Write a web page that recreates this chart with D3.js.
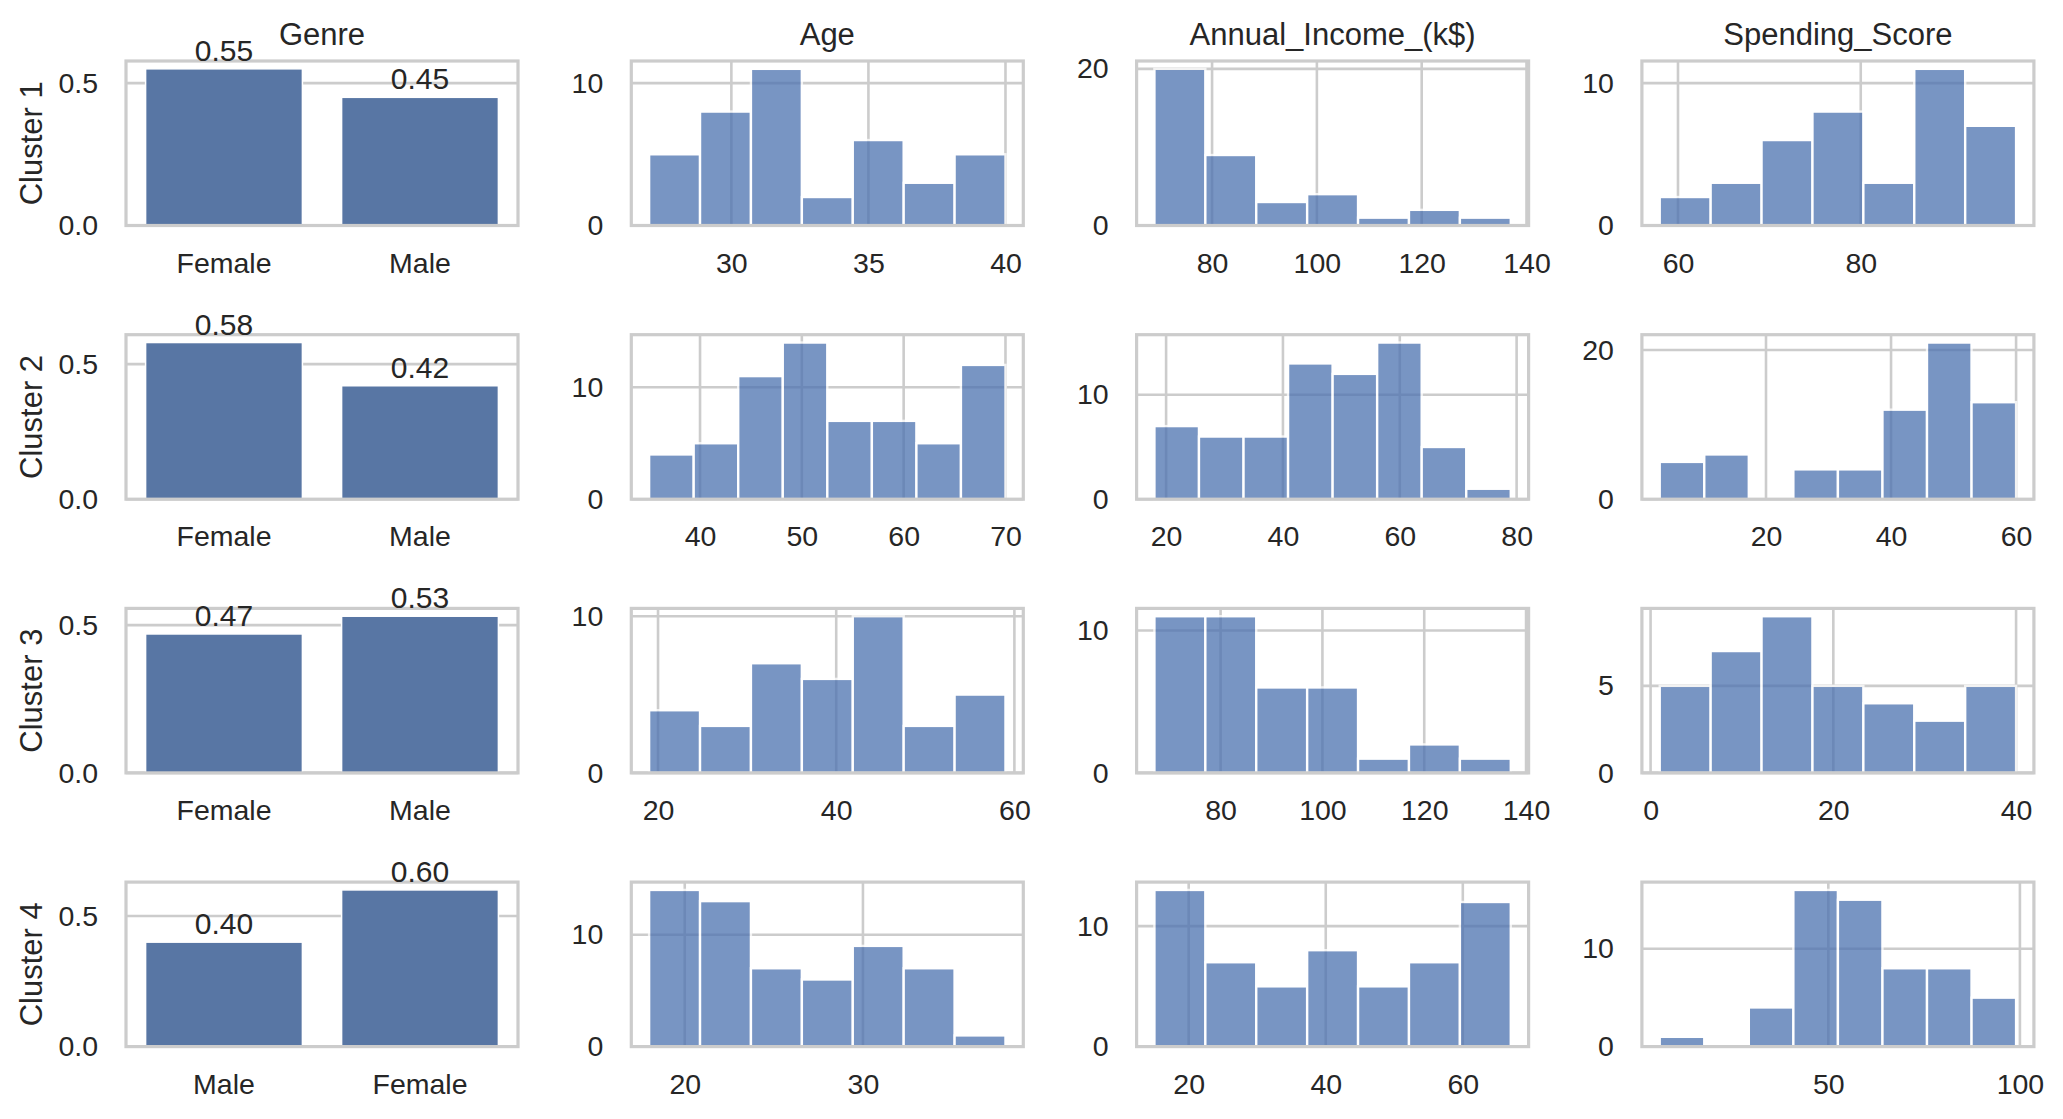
<!DOCTYPE html>
<html>
<head>
<meta charset="utf-8">
<script src="https://cdn.jsdelivr.net/npm/d3@7"></script>
<style>
  body { margin: 0; background: #fff; }
  text { font-family: "Liberation Sans", Arial, sans-serif; fill: #262626; }
</style>
</head>
<body>
<div id="chart"></div>
<script>
// ---- data ----
const clusters = ["Cluster 1", "Cluster 2", "Cluster 3", "Cluster 4"];
const columns = ["Genre", "Age", "Annual_Income_(k$)", "Spending_Score"];

const genreCats = [["Female", "Male"], ["Female", "Male"], ["Female", "Male"], ["Male", "Female"]];
const genreShares = [[0.55, 0.45], [0.58, 0.42], [0.47, 0.53], [0.40, 0.60]];
const genreYTicks = [0, 0.5];

// histogram ranges (first and last bin edge) and counts per bin
const ageRange = [[27, 40], [35, 70], [19, 59], [18, 38]];
const ageCounts = [
  [5, 8, 11, 2, 6, 3, 5],
  [4, 5, 11, 14, 7, 7, 5, 12],
  [4, 3, 7, 6, 10, 3, 5],
  [14, 13, 7, 6, 9, 7, 1]
];
const ageXTicks = [[30, 35, 40], [40, 50, 60, 70], [20, 40, 60], [20, 30]];
const ageYTicks = [[0, 10], [0, 10], [0, 10], [0, 10]];

const incomeRange = [[69, 137], [18, 79], [67, 137], [15, 67]];
const incomeCounts = [
  [20, 9, 3, 4, 1, 2, 1],
  [7, 6, 6, 13, 12, 15, 5, 1],
  [11, 11, 6, 6, 1, 2, 1],
  [13, 7, 5, 8, 5, 7, 12]
];
const incomeXTicks = [[80, 100, 120, 140], [20, 40, 60, 80], [80, 100, 120, 140], [20, 40, 60]];
const incomeYTicks = [[0, 20], [0, 10], [0, 10], [0, 10]];

const spendRange = [[58, 97], [3, 60], [1, 40], [6, 99]];
const spendCounts = [
  [2, 3, 6, 8, 3, 11, 7],
  [5, 6, 0, 4, 4, 12, 21, 13],
  [5, 7, 9, 5, 4, 3, 5],
  [1, 0, 4, 16, 15, 8, 8, 5]
];
const spendXTicks = [[60, 80], [20, 40, 60], [0, 20, 40], [50, 100]];
const spendYTicks = [[0, 10], [0, 20], [0, 5], [0, 10]];

// ---- layout ----
const width = 2063, height = 1119;
const axW = 392, axH = 164.5;
const colLeft = (c) => 126 + c * 505.3;
const rowTop = (r) => 61 + r * 273.7;

const gridColor = "#cccccc";
const barColor = "#5876a4";
const histColor = "#4c72b0";
const tickSize = 28.5, labelSize = 31;

const svg = d3.select("#chart")
  .append("svg")
  .attr("width", width)
  .attr("height", height)
  .style("background", "#fff");

const styleAxis = (g) => {
  g.select(".domain").remove();
  g.selectAll("text")
    .style("font-size", tickSize + "px")
    .style("font-family", '"Liberation Sans", Arial, sans-serif')
    .attr("fill", "#262626");
};

const drawFrame = (g) => {
  g.append("rect")
    .attr("x", 0).attr("y", 0)
    .attr("width", axW).attr("height", axH)
    .attr("fill", "none")
    .attr("stroke", gridColor)
    .attr("stroke-width", 3.2);
};

//bar chart of the genre shares
const drawGenre = (g, cats, vals) => {
  const x = d3.scaleBand().domain(cats).range([0, axW]).paddingInner(0.2).paddingOuter(0.1);
  const y = d3.scaleLinear().domain([0, d3.max(vals) * 1.05]).range([axH, 0]);

  g.selectAll(".hgrid").data(genreYTicks).enter().append("line")
    .attr("x1", 0).attr("x2", axW)
    .attr("y1", (d) => y(d)).attr("y2", (d) => y(d))
    .attr("stroke", gridColor).attr("stroke-width", 2.6);

  g.selectAll(".bar").data(vals).enter().append("rect")
    .attr("x", (d, i) => x(cats[i]))
    .attr("width", x.bandwidth())
    .attr("y", (d) => y(d))
    .attr("height", (d) => axH - y(d))
    .attr("fill", barColor)
    .attr("stroke", "#fff")
    .attr("stroke-width", 1.5);

  drawFrame(g);

  g.append("g")
    .attr("transform", `translate(0,${axH})`)
    .call(d3.axisBottom(x).tickSize(0).tickPadding(27))
    .call(styleAxis);
  g.append("g")
    .call(d3.axisLeft(y).tickValues(genreYTicks).tickFormat(d3.format(".1f")).tickSize(0).tickPadding(28))
    .call(styleAxis);

  g.selectAll(".lbl").data(vals).enter().append("text")
    .attr("x", (d, i) => x(cats[i]) + x.bandwidth() / 2)
    .attr("y", (d) => y(d) - 8)
    .attr("text-anchor", "middle")
    .style("font-size", "30px")
    .text((d) => d3.format(".2f")(d));
};

//histogram with equal bins between lo and hi
const drawHist = (g, range, counts, xTicks, yTicks) => {
  const [lo, hi] = range;
  const span = hi - lo;
  const x = d3.scaleLinear().domain([lo - 0.05 * span, hi + 0.05 * span]).range([0, axW]);
  const y = d3.scaleLinear().domain([0, d3.max(counts) * 1.05]).range([axH, 0]);
  const step = span / counts.length;
  const bins = counts.map((c, i) => ({ x0: lo + i * step, x1: lo + (i + 1) * step, c }));

  g.selectAll(".vgrid").data(xTicks).enter().append("line")
    .attr("x1", (d) => x(d)).attr("x2", (d) => x(d))
    .attr("y1", 0).attr("y2", axH)
    .attr("stroke", gridColor).attr("stroke-width", 2.6);
  g.selectAll(".hgrid").data(yTicks).enter().append("line")
    .attr("x1", 0).attr("x2", axW)
    .attr("y1", (d) => y(d)).attr("y2", (d) => y(d))
    .attr("stroke", gridColor).attr("stroke-width", 2.6);

  g.selectAll(".bin").data(bins.filter((b) => b.c > 0)).enter().append("rect")
    .attr("x", (d) => x(d.x0))
    .attr("width", (d) => x(d.x1) - x(d.x0))
    .attr("y", (d) => y(d.c))
    .attr("height", (d) => axH - y(d.c))
    .attr("fill", histColor)
    .attr("stroke", "#fff")
    .attr("stroke-width", 2.4)
    .attr("opacity", 0.75);

  drawFrame(g);

  g.append("g")
    .attr("transform", `translate(0,${axH})`)
    .call(d3.axisBottom(x).tickValues(xTicks).tickFormat(d3.format("d")).tickSize(0).tickPadding(27))
    .call(styleAxis);
  g.append("g")
    .call(d3.axisLeft(y).tickValues(yTicks).tickFormat(d3.format("d")).tickSize(0).tickPadding(28))
    .call(styleAxis);
};

clusters.forEach((name, r) => {
  const panels = [
    (g) => drawGenre(g, genreCats[r], genreShares[r]),
    (g) => drawHist(g, ageRange[r], ageCounts[r], ageXTicks[r], ageYTicks[r]),
    (g) => drawHist(g, incomeRange[r], incomeCounts[r], incomeXTicks[r], incomeYTicks[r]),
    (g) => drawHist(g, spendRange[r], spendCounts[r], spendXTicks[r], spendYTicks[r])
  ];
  panels.forEach((draw, c) => {
    const g = svg.append("g").attr("transform", `translate(${colLeft(c)},${rowTop(r)})`);
    draw(g);
    if (r === 0) {
      g.append("text")
        .attr("x", axW / 2).attr("y", -16)
        .attr("text-anchor", "middle")
        .style("font-size", labelSize + "px")
        .text(columns[c]);
    }
  });

  svg.append("text")
    .attr("transform", `translate(42,${rowTop(r) + axH / 2}) rotate(-90)`)
    .attr("text-anchor", "middle")
    .style("font-size", labelSize + "px")
    .text(name);
});
</script>
</body>
</html>
